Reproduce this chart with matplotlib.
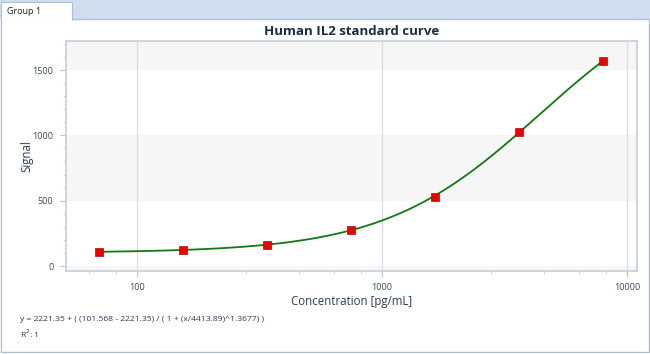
import numpy as np
import matplotlib
matplotlib.use("Agg")
from matplotlib import pyplot as plt
from matplotlib.patches import Rectangle
from matplotlib.ticker import FixedLocator, FixedFormatter, NullFormatter

# standard points (2.2 fold dilutions)
conc = [70.5, 155, 341, 751, 1653, 3636, 8000]
signal = [107, 126, 161, 275, 532, 1025, 1568]

# 4PL fit shown under the chart
top = 2221.35
bottom = 101.568
ec50 = 4413.89
hill = 1.3677

x_major = [100, 1000, 10000]
x_minor = [64, 82, 280, 460, 640, 820, 2800, 4600, 6400, 8200]
y_major = [0, 500, 1000, 1500]

plt.rcParams['font.family'] = ['Open Sans', 'DejaVu Sans']

W, H = 650, 354
fig = plt.figure(figsize=(W / 100, H / 100), dpi=100)
fig.patch.set_facecolor("white")

def box(x0, y0, w, h, **kw):
    # pixel box (top-left origin) drawn behind the axes
    r = Rectangle((x0 / W, 1 - (y0 + h) / H), w / W, h / H,
                  transform=fig.transFigure, zorder=-5, **kw)
    fig.add_artist(r)

# tab bar + panel
box(0, 0, 650, 19, fc="#d0ddee", ec="none")
box(0.5, 19, 648.5, 333, fc="white", ec="#aebfd6", lw=1)
box(1, 2, 71, 18, fc="white", ec="#aebfd6", lw=0.8)
box(1.5, 18, 70, 3, fc="white", ec="none")
fig.text(7 / W, 1 - 11 / H, "Group 1", fontsize=6.5, color="#222222", va="center", ha="left")

ax = fig.add_axes([66 / W, 1 - 271 / H, 571 / W, 230 / H])
ax.set_xscale("log")
ax.set_xlim(51.5, 11000)
ax.set_ylim(-38, 1722)

# alternating bands
for lo in [-500, 500, 1500]:
    ax.axhspan(lo, lo + 500, color="#f6f6f6", lw=0, zorder=0)
for v in x_major:
    ax.axvline(v, color="#dadee4", lw=0.9, zorder=1)

xs = np.logspace(np.log10(conc[0]), np.log10(conc[-1]), 300)
ys = top + (bottom - top) / (1 + (xs / ec50) ** hill)
ax.plot(xs, ys, color="#117a11", lw=1.3, zorder=3)
ax.plot(conc, signal, "s", ms=5.6, mfc="#ee0000", mec="#c00000", mew=0.5, zorder=4)

ax.xaxis.set_major_locator(FixedLocator(x_major))
ax.xaxis.set_minor_locator(FixedLocator(x_minor))
ax.xaxis.set_major_formatter(FixedFormatter([str(v) for v in x_major]))
ax.xaxis.set_minor_formatter(NullFormatter())
ax.yaxis.set_major_locator(FixedLocator(y_major))
ax.yaxis.set_minor_locator(FixedLocator(range(0, 1800, 100)))

for s in ax.spines.values():
    s.set_color("#c5cedb")
    s.set_linewidth(1.2)
ax.tick_params(which="major", length=4, width=0.8, color="#b8c2d0", labelsize=6.5,
               labelcolor="#3b465a", pad=5)
ax.tick_params(which="minor", length=2.5, width=0.6, color="#c5cedb")

ax.set_title("Human IL2 standard curve", fontsize=9.5, fontweight="bold",
             color="#1c2c48", pad=4)
ax.set_xlabel("Concentration [pg/mL]", fontsize=8.3, color="#2b3a55", labelpad=2)
ax.set_ylabel("Signal", fontsize=8.3, color="#2b3a55")
ax.yaxis.set_label_coords(-33 / 571, 0.5)

fig.text(20 / W, 1 - 319 / H,
         "y = 2221.35 + ( (101.568 - 2221.35) / ( 1 + (x/4413.89)^1.3677) )",
         fontsize=6.1, color="#2b3a55", va="center")
fig.text(20 / W, 1 - 334 / H, "R$^2$: 1", fontsize=6.1, color="#2b3a55", va="center")

fig.savefig("out.png", dpi=100)
